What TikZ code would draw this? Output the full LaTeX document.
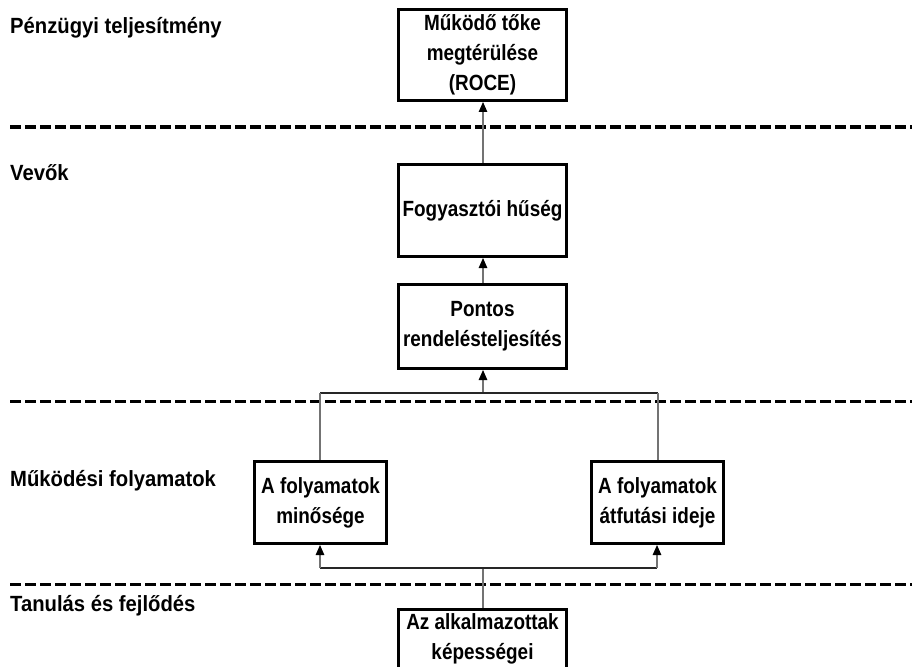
\documentclass[tikz,border=0pt]{standalone}
\usepackage{fontspec}
\setmainfont{Liberation Sans}[FakeStretch=0.86]
\newfontfamily\lanefont{Liberation Sans}[FakeStretch=0.92]
\usetikzlibrary{arrows.meta}

\tikzset{
  box/.style={draw=black, line width=3pt, fill=white, align=center, inner sep=1pt,
    font=\bfseries\fontsize{22}{30}\selectfont},
  lane/.style={anchor=west, inner sep=0pt, font=\lanefont\bfseries\fontsize{22}{24}\selectfont},
  sep/.style={draw=black, line width=3pt, dash pattern=on 10.5pt off 4.5pt},
  conn/.style={draw=black!55, line width=1.1pt},
  hconn/.style={draw=black!85, line width=1.4pt},
  up/.style={conn, -{Triangle[width=8.5pt,length=10pt,color=black]}}
}

\begin{document}
\begin{tikzpicture}[x=1pt, y=-1pt]
  \useasboundingbox (0,0) rectangle (912,666);

  % perspective separators
  \draw[sep] (10,127) -- (912,127);
  \draw[sep] (10,401) -- (912,401);
  \draw[sep] (10,584) -- (912,584);

  % perspective names
  \node[lane] (lfin)  at (10,28)  {Pénzügyi teljesítmény};
  \node[lane] (lcust) at (10,173) {Vevők};
  \node[lane] (lproc) at (10,481) {Működési folyamatok};
  \node[lane] (llrn)  at (10,606) {Tanulás és fejlődés};

  % measures
  \node[box, minimum width=168pt, minimum height=91pt] (roce) at (482.5,55)
    {Működő tőke\\megtérülése\\(ROCE)};
  \node[box, minimum width=168pt, minimum height=92pt] (huseg) at (482.5,210.5)
    {Fogyasztói hűség};
  \node[box, minimum width=168pt, minimum height=84pt] (pontos) at (482.5,326.5)
    {Pontos\\rendelésteljesítés};
  \node[box, minimum width=132pt, minimum height=82pt] (minoseg) at (320.5,502.5)
    {A folyamatok\\minősége};
  \node[box, minimum width=132pt, minimum height=82pt] (atfutas) at (657.5,502.5)
    {A folyamatok\\átfutási ideje};
  \node[box, minimum width=168pt, minimum height=60pt] (kepesseg) at (482.5,639)
    {Az alkalmazottak\\képességei};

  % junction points of the cause-and-effect links
  \coordinate (spine) at (483,0);
  \coordinate (jt) at (483,393);
  \coordinate (lt) at (320,393);
  \coordinate (rt) at (658,393);
  \coordinate (jb) at (483,568);
  \coordinate (lb) at (320,568);
  \coordinate (rb) at (657,568);

  % links
  \draw[up] (huseg.north -| spine) -- (roce.south -| spine);
  \draw[up] (pontos.north -| spine) -- (huseg.south -| spine);
  \draw[up] (jt) -- (pontos.south -| jt);
  \draw[hconn] (lt) -- (rt);
  \draw[conn] (lt) -- (lt |- minoseg.north);
  \draw[conn] (rt) -- (rt |- atfutas.north);

  \draw[conn] (kepesseg.north -| jb) -- (jb);
  \draw[hconn] (lb) -- (rb);
  \draw[up] (lb) -- (lb |- minoseg.south);
  \draw[up] (rb) -- (rb |- atfutas.south);
\end{tikzpicture}
\end{document}
